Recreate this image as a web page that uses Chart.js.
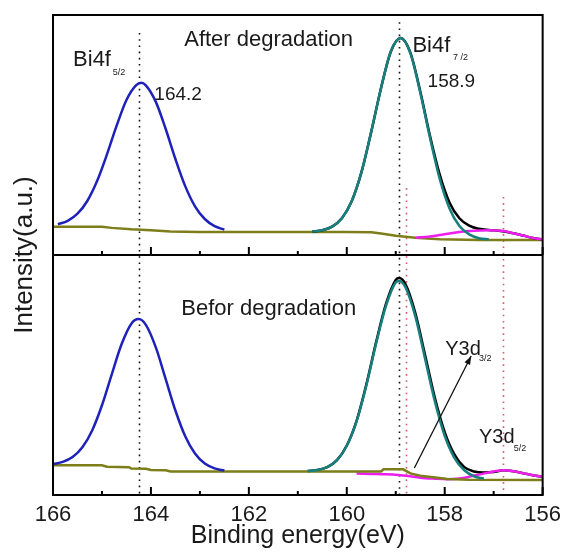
<!DOCTYPE html>
<html>
<head>
<meta charset="utf-8">
<script src="https://cdn.jsdelivr.net/npm/chart.js@4.4.0/dist/chart.umd.min.js"></script>
<style>
  html, body { margin: 0; padding: 0; background: #fff; }
  #wrap { width: 568px; height: 553px; }
</style>
</head>
<body>
<div id="wrap"><canvas id="xpsChart" width="568" height="553"></canvas></div>
<script>
// binding energy (eV) / intensity (a.u., each panel runs 0-100)

// upper panel: after degradation
const upBlueE = [165.9, 165.7, 165.5, 165.3, 165.1, 164.9, 164.7, 164.5, 164.3, 164.2, 164.1, 163.9, 163.7, 163.5, 163.3, 163.1, 162.9, 162.7, 162.5];
const upBlueI = [12.8, 14.2, 17.2, 22.5, 30.8, 41.8, 53.9, 64.6, 70.8, 71.8, 70.6, 63.8, 52.6, 40.0, 28.7, 20.3, 15.0, 12.0, 10.6];

const upTealE = [160.7, 160.5, 160.3, 160.1, 159.9, 159.7, 159.5, 159.3, 159.1, 158.9, 158.7, 158.5, 158.3, 158.1, 157.9, 157.7, 157.5, 157.3, 157.1];
const upTealI = [9.8, 10.3, 11.8, 15.3, 22.4, 34.5, 51.4, 69.6, 84.8, 90.4, 84.0, 67.7, 48.8, 31.6, 19.3, 12.1, 8.6, 7.0, 6.5];

const upSumE = [160.7, 160.5, 160.3, 160.1, 159.9, 159.7, 159.5, 159.3, 159.1, 158.9, 158.7, 158.5, 158.3, 158.1, 157.9, 157.7, 157.5, 157.3, 157.1, 156.9, 156.6, 156.4, 156.2, 156.0];
const upSumI = [9.8, 10.3, 11.8, 15.3, 22.4, 34.5, 51.4, 69.6, 84.8, 90.4, 84.2, 68.2, 49.6, 33.4, 21.8, 15.3, 12.2, 10.9, 10.4, 10.1, 9.1, 8.1, 7.1, 6.5];

const upYE = [158.6, 158.3, 158.1, 157.9, 157.7, 157.4, 157.1, 156.8, 156.6, 156.4, 156.2, 156.0];
const upYI = [7.2, 7.7, 8.3, 9.0, 9.6, 10.1, 10.3, 10.0, 9.1, 8.1, 7.1, 6.5];

const upBgE = [166.0, 165.0, 164.8, 164.4, 164.0, 163.6, 163.0, 161.0, 160.0, 159.5, 159.3, 159.0, 158.6, 158.1, 157.3, 156.0];
const upBgI = [11.8, 11.8, 11.3, 10.7, 10.3, 9.8, 9.6, 9.6, 9.6, 9.5, 9.0, 8.0, 7.2, 6.6, 6.3, 6.2];

// lower panel: before degradation
const loBlueE = [166.0, 165.8, 165.6, 165.4, 165.2, 165.0, 164.8, 164.6, 164.4, 164.25, 164.1, 163.9, 163.7, 163.5, 163.3, 163.1, 162.9, 162.7, 162.5];
const loBlueI = [12.9, 13.8, 15.8, 19.9, 26.9, 37.4, 50.3, 62.8, 71.4, 73.3, 70.8, 61.5, 48.4, 35.2, 24.5, 17.3, 13.1, 11.1, 10.2];

const loTealE = [160.8, 160.6, 160.4, 160.2, 160.0, 159.8, 159.6, 159.4, 159.2, 159.0, 158.93, 158.8, 158.6, 158.4, 158.2, 158.0, 157.8, 157.6, 157.4, 157.2];
const loTealI = [10.0, 10.4, 11.6, 14.5, 20.5, 30.7, 45.7, 63.2, 78.8, 88.6, 89.2, 86.5, 74.4, 56.7, 38.9, 24.7, 15.4, 10.3, 7.8, 6.8];

const loSumE = [160.8, 160.6, 160.4, 160.2, 160.0, 159.8, 159.6, 159.4, 159.2, 159.0, 158.93, 158.8, 158.6, 158.4, 158.2, 158.0, 157.8, 157.6, 157.4, 157.2, 157.0, 156.8, 156.6, 156.4, 156.2, 156.0];
const loSumI = [10.0, 10.4, 11.6, 14.5, 20.6, 30.9, 46.1, 63.8, 79.6, 89.6, 90.4, 87.8, 75.8, 58.2, 40.4, 26.2, 16.8, 11.6, 9.8, 9.4, 9.6, 10.3, 9.9, 9.1, 8.2, 7.6];

const loYE = [159.8, 159.5, 159.2, 158.95, 158.75, 158.5, 158.2, 157.95, 157.7, 157.5, 157.3, 157.1, 156.95, 156.8, 156.6, 156.4, 156.2, 156.0];
const loYI = [9.0, 8.8, 8.6, 8.3, 7.9, 7.2, 6.8, 6.6, 6.9, 7.6, 8.5, 9.4, 10.0, 10.3, 9.9, 9.1, 8.2, 7.6];

const loBgE = [166.0, 165.0, 164.9, 164.45, 164.4, 164.1, 164.0, 163.7, 163.6, 160.0, 159.3, 159.25, 158.85, 158.7, 158.5, 158.15, 157.95, 157.5, 156.0];
const loBgI = [12.4, 12.4, 11.8, 11.6, 11.0, 10.9, 10.4, 10.3, 9.8, 9.8, 9.8, 10.7, 10.7, 9.0, 8.0, 7.2, 6.7, 6.4, 6.2];

// x axis ticks and reference lines
const xTicks = [166, 164, 162, 160, 158, 156];
const biLines = [164.25, 158.93];   // black dotted (Bi 4f peaks)
const yLines = [158.8, 156.8];      // red dotted (Y 3d)

const PANEL = 100; // upper panel sits on top of the lower one

const toPts = (es, is, shift) => es.map((e, i) => ({ x: e, y: is[i] + shift }));

const line = (label, es, is, shift, color, smooth) => ({
    label: label,
    data: toPts(es, is, shift),
    borderColor: color,
    borderWidth: 2.5,
    pointRadius: 0,
    fill: false,
    cubicInterpolationMode: smooth ? 'monotone' : 'default',
    tension: 0
});

const TEAL = '#17807e';
const BLUE = '#1f22b8';
const OLIVE = '#7d7d1a';
const MAG = '#ee1fee';

// first dataset is drawn on top
const datasets = [
    line('up teal', upTealE, upTealI, PANEL, TEAL, true),
    line('up blue', upBlueE, upBlueI, PANEL, BLUE, true),
    line('up Y', upYE, upYI, PANEL, MAG, true),
    line('up sum', upSumE, upSumI, PANEL, '#000000', true),
    line('up bg', upBgE, upBgI, PANEL, OLIVE, false),
    line('lo teal', loTealE, loTealI, 0, TEAL, true),
    line('lo blue', loBlueE, loBlueI, 0, BLUE, true),
    line('lo bg', loBgE, loBgI, 0, OLIVE, false),
    line('lo Y', loYE, loYI, 0, MAG, true),
    line('lo sum', loSumE, loSumI, 0, '#000000', true)
];

const FONT = "'Liberation Sans', Arial, sans-serif";

// dotted guides, frame, inward ticks, labels
const decor = {
    id: 'decor',
    beforeDatasetsDraw(chart) {
        const { ctx, scales: { x, y } } = chart;
        ctx.save();
        ctx.lineWidth = 1.6;
        ctx.setLineDash([1.6, 4.6]);
        ctx.strokeStyle = '#111';
        const biTop = [192.5, 197];
        biLines.forEach((e, i) => {
            const px = Math.round(x.getPixelForValue(e)) + 0.5;
            ctx.beginPath();
            ctx.moveTo(px, y.getPixelForValue(biTop[i]));
            ctx.lineTo(px, y.getPixelForValue(0));
            ctx.stroke();
        });
        ctx.strokeStyle = '#e0585f';
        const yTop = [127.9, 124.2];
        yLines.forEach((e, i) => {
            const px = Math.round(x.getPixelForValue(e)) + 0.5;
            ctx.beginPath();
            ctx.moveTo(px, y.getPixelForValue(yTop[i]));
            ctx.lineTo(px, y.getPixelForValue(0));
            ctx.stroke();
        });
        ctx.restore();
    },
    afterDatasetsDraw(chart) {
        const { ctx, chartArea: a, scales: { x, y } } = chart;
        ctx.save();
        ctx.strokeStyle = '#000';
        ctx.lineWidth = 2;
        ctx.strokeRect(a.left, a.top, a.right - a.left, a.bottom - a.top);
        const mid = y.getPixelForValue(PANEL);
        ctx.beginPath();
        ctx.moveTo(a.left, mid);
        ctx.lineTo(a.right, mid);
        ctx.stroke();

        // inward ticks on the bottom of both panels
        [mid, a.bottom].forEach(base => {
            for (let e = 156; e <= 166; e++) {
                const px = x.getPixelForValue(e);
                const len = e % 2 === 0 ? 8 : 4;
                ctx.beginPath();
                ctx.moveTo(px, base);
                ctx.lineTo(px, base - len);
                ctx.stroke();
            }
        });

        // text
        ctx.fillStyle = '#1a1a1a';
        ctx.textAlign = 'left';
        ctx.textBaseline = 'alphabetic';
        const put = (txt, e, v, size) => {
            ctx.font = size + 'px ' + FONT;
            ctx.fillText(txt, x.getPixelForValue(e), y.getPixelForValue(v));
        };
        put('After degradation', 163.32, 187.1, 22);
        put('Befor degradation', 163.38, 75, 22);
        put('Bi4f', 165.59, 178.75, 22);
        put('5/2', 164.78, 175, 9);
        put('164.2', 163.93, 164.6, 19);
        put('Bi4f', 158.66, 184.6, 22);
        put('7 /2', 157.83, 181.25, 9);
        put('158.9', 158.35, 170, 19);
        put('Y3d', 157.99, 58.3, 20);
        put('3/2', 157.3, 55.8, 9);
        put('Y3d', 157.3, 21.7, 20);
        put('5/2', 156.59, 18.3, 9);

        // arrow to Y3d 3/2
        const x0 = x.getPixelForValue(158.62), y0 = y.getPixelForValue(11.25);
        const x1 = x.getPixelForValue(157.46), y1 = y.getPixelForValue(57.9);
        ctx.strokeStyle = '#111';
        ctx.lineWidth = 1.3;
        ctx.beginPath();
        ctx.moveTo(x0, y0);
        ctx.lineTo(x1, y1);
        ctx.stroke();
        const ang = Math.atan2(y1 - y0, x1 - x0);
        ctx.fillStyle = '#111';
        ctx.beginPath();
        ctx.moveTo(x1, y1);
        ctx.lineTo(x1 - 9 * Math.cos(ang - 0.35), y1 - 9 * Math.sin(ang - 0.35));
        ctx.lineTo(x1 - 9 * Math.cos(ang + 0.35), y1 - 9 * Math.sin(ang + 0.35));
        ctx.closePath();
        ctx.fill();
        ctx.restore();
    }
};

new Chart(document.getElementById('xpsChart').getContext('2d'), {
    type: 'line',
    data: { datasets: datasets },
    options: {
        responsive: false,
        devicePixelRatio: 1,
        animation: false,
        layout: { padding: { top: 15, right: 22, left: 0, bottom: 0 } },
        plugins: {
            legend: { display: false },
            tooltip: { enabled: false }
        },
        scales: {
            x: {
                type: 'linear',
                reverse: true,
                min: 156,
                max: 166,
                afterBuildTicks: s => { s.ticks = xTicks.map(v => ({ value: v })); },
                afterFit: s => { s.height = 58; },
                grid: { display: false, drawTicks: false },
                border: { display: false },
                ticks: {
                    color: '#1a1a1a',
                    padding: 7,
                    maxRotation: 0,
                    font: { family: FONT, size: 22 }
                },
                title: {
                    display: true,
                    text: 'Binding energy(eV)',
                    color: '#1a1a1a',
                    padding: { top: 0, bottom: 2 },
                    font: { family: FONT, size: 25 }
                }
            },
            y: {
                type: 'linear',
                min: 0,
                max: 200,
                afterFit: s => { s.width = 53; },
                grid: { display: false, drawTicks: false },
                border: { display: false },
                ticks: { display: false },
                title: {
                    display: true,
                    text: 'Intensity(a.u.)',
                    color: '#1a1a1a',
                    padding: { top: 9, bottom: 0 },
                    font: { family: FONT, size: 26 }
                }
            }
        }
    },
    plugins: [decor]
});
</script>
</body>
</html>
